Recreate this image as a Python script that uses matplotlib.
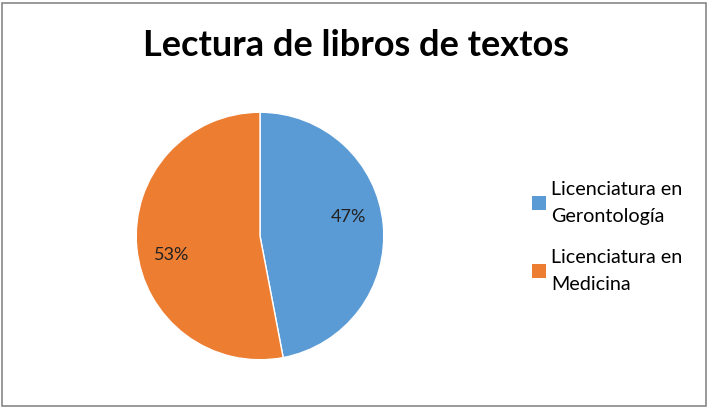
import numpy as np
import matplotlib
matplotlib.use("Agg")
import matplotlib.pyplot as plt
from matplotlib.patches import Rectangle, Patch

title = "Lectura de libros de textos"
labels = ["Licenciatura en\nGerontología", "Licenciatura en\nMedicina"]
values = [47, 53]
colors = ["#5B9BD5", "#ED7D31"]

W, H = 712, 408
plt.rcParams["font.family"] = ["Lato", "DejaVu Sans"]

fig = plt.figure(figsize=(W / 100, H / 100), dpi=100)

# chart frame
fig.add_artist(Rectangle((2 / W, 2 / H), 704 / W, 403 / H, transform=fig.transFigure,
                         fill=False, edgecolor="#888888", linewidth=1.2))

# pie centred at (260, 236) px
cx, cy, r = 260, 236, 125
ax = fig.add_axes([(cx - r) / W, 1 - (cy + r) / H, 2 * r / W, 2 * r / H])
wedges, _, pct = ax.pie(values, colors=colors, startangle=90, counterclock=False,
                        autopct=lambda p: "{:.0f}%".format(p), pctdistance=0.73,
                        wedgeprops={"edgecolor": "white", "linewidth": 1},
                        textprops={"fontsize": 13, "color": "#222222"})
# excel-like label placement, a bit off the mid angle
for w, t in zip(wedges, pct):
    ang = np.deg2rad((w.theta1 + w.theta2) / 2 + 7)
    t.set_position((0.73 * np.cos(ang), 0.73 * np.sin(ang)))
ax.set_xlim(-1.01, 1.01)
ax.set_ylim(-1.01, 1.01)
ax.set_aspect("equal")

fig.text(356 / W, 1 - 45 / H, title, ha="center", va="center",
         fontsize=26, fontweight="bold")

handles = [Patch(facecolor=c) for c in colors]
leg = fig.legend(handles, labels, loc="center left", bbox_to_anchor=(514 / W, 1 - 237 / H),
                 frameon=False, fontsize=14.2, handlelength=0.7, handleheight=0.7,
                 handletextpad=0.3, labelspacing=1.2)
for t in leg.get_texts():
    t.set_linespacing(1.72)

fig.savefig("out.png", dpi=100)
